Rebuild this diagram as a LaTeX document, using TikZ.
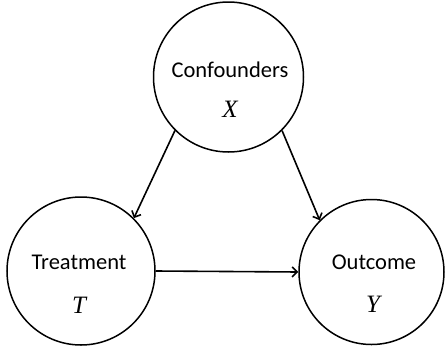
\documentclass[tikz,border=0pt]{standalone}
\usepackage{fontspec}
\setmainfont{Carlito}
\newfontfamily\symfont{Liberation Serif}
\usetikzlibrary{arrows.meta}
\begin{document}
\begin{tikzpicture}[x=1pt,y=1pt,
  var/.style={circle,draw=black,line width=1.5pt,inner sep=0pt},
  lbl/.style={font=\fontsize{22.5}{26}\selectfont,inner sep=0pt},
  sym/.style={font=\symfont\itshape\fontsize{25}{28}\selectfont,inner sep=0pt},
  arr/.style={line width=1.6pt,-{Straight Barb[length=5pt,width=10pt,line width=1.6pt]}}]
\useasboundingbox (0,0) rectangle (445,-349);
\node[var,minimum size=150pt] (conf) at (228.5,-77) {};
\node[var,minimum size=148pt] (treat) at (81,-271) {};
\node[var,minimum size=145pt] (out) at (371.5,-272) {};
\node[lbl] (conft) at (230,-70) {Confounders};
\node[sym] (confx) at (230,-109) {X};
\node[lbl] (treatt) at (79,-262) {Treatment};
\node[sym] (treatx) at (79,-305) {T};
\node[lbl] (outt) at (374,-262) {Outcome};
\node[sym] (outx) at (373,-304) {Y};
\draw[arr] (conf.225) -- (treat.45);
\draw[arr] (conf.-45) -- (out.135);
\draw[arr] (treat.east) -- (out.west);
\end{tikzpicture}
\end{document}
